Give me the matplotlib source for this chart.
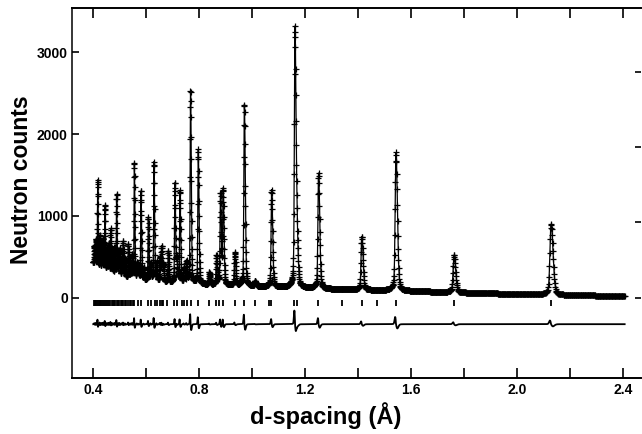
import numpy as np
import matplotlib
matplotlib.use('Agg')
from matplotlib import pyplot as plt

plt.rcParams['font.family'] = ['Liberation Sans', 'DejaVu Sans']
plt.rcParams['font.weight'] = 'bold'

# Bragg peaks: d-spacing (A) and top counts
peak_d = [0.404, 0.409, 0.4166, 0.425, 0.432, 0.438, 0.444, 0.452, 0.458, 0.4655,
          0.472, 0.480, 0.488, 0.495, 0.500, 0.508, 0.513, 0.520, 0.532, 0.540,
          0.547, 0.555, 0.565, 0.570, 0.580, 0.590, 0.6076, 0.617, 0.629, 0.639,
          0.652, 0.658, 0.664, 0.683, 0.708, 0.715, 0.727, 0.742, 0.752, 0.767,
          0.796, 0.838, 0.865, 0.880, 0.890, 0.934, 0.970, 1.010, 1.073, 1.161,
          1.169, 1.250, 1.413, 1.542, 1.761, 2.127]
peak_top = [620, 700, 1432, 750, 640, 700, 1114, 600, 650, 829,
            560, 600, 1257, 520, 584, 480, 670, 461, 645, 430,
            500, 1637, 400, 380, 1297, 350, 972, 400, 1653, 420,
            480, 605, 400, 563, 1392, 450, 1297, 350, 421, 2530,
            1808, 300, 502, 1257, 1310, 543, 2367, 200, 1318, 3300,
            600, 1523, 747, 1780, 522, 902]

# background level under the pattern
bg_d = [0.40, 0.42, 0.45, 0.50, 0.55, 0.60, 0.70, 0.80, 0.90, 1.0, 1.1, 1.2,
        1.3, 1.4, 1.5, 1.6, 1.7, 1.8, 1.9, 2.0, 2.1, 2.2, 2.3, 2.41]
bg_counts = [420, 370, 320, 260, 225, 205, 180, 162, 150, 140, 128, 118,
             105, 96, 88, 80, 70, 60, 52, 43, 35, 30, 25, 21]

# reflection markers
refl_d = [0.402, 0.405, 0.408, 0.411, 0.414, 0.417, 0.420, 0.424, 0.427, 0.431,
          0.434, 0.438, 0.441, 0.444, 0.448, 0.452, 0.456, 0.460, 0.465, 0.469,
          0.473, 0.478, 0.483, 0.488, 0.493, 0.498, 0.503, 0.508, 0.513, 0.519,
          0.525, 0.531, 0.537, 0.543, 0.549, 0.555, 0.570, 0.579, 0.608, 0.617,
          0.633, 0.639, 0.652, 0.658, 0.664, 0.677, 0.706, 0.715, 0.733, 0.742,
          0.752, 0.767, 0.796, 0.838, 0.863, 0.876, 0.888, 0.935, 0.970, 1.010,
          1.063, 1.071, 1.157, 1.169, 1.248, 1.337, 1.413, 1.469, 1.542, 1.761,
          2.127]

res = 0.0019        # gaussian sigma / d
misfit = 0.00018    # calc peak shift / d
tick_row = -65
diff_offset = -325


def profile(x, shift=0.0):
    y = np.interp(x, bg_d, bg_counts)
    for d0, top in zip(peak_d, peak_top):
        h = top - np.interp(d0, bg_d, bg_counts)
        c = d0 * (1 + shift)
        s = res * d0
        sl = np.where(x < c, s, 1.8 * s)
        y = y + h * (0.88 * np.exp(-0.5 * ((x - c) / sl) ** 2)
                     + 0.12 / (1 + ((x - c) / (3 * s)) ** 2))
    return y


d = np.geomspace(0.40, 2.405, 2600)
obs = profile(d)
calc = profile(d, misfit)

fig = plt.figure(figsize=(6.42, 4.34), dpi=100)
ax = fig.add_axes([0.1121, 0.1297, 0.8869, 0.853])

ax.plot(d, obs, '+', color='k', ms=4.2, mew=0.9)
ax.plot(d, calc, '-', color='k', lw=0.9)
ax.plot(refl_d, [tick_row] * len(refl_d), '|', color='k', ms=4.5, mew=1.3)
ax.plot(d, obs - calc + diff_offset, '-', color='k', lw=1.3)

ax.set_xlim(0.3197, 2.468)
ax.set_ylim(-980, 3550)

ax.set_xticks([0.4, 0.8, 1.2, 1.6, 2.0, 2.4])
ax.set_xticklabels(['0.4', '0.8', '1.2', '1.6', '2.0', '2.4'])
ax.set_xticks([0.6, 1.0, 1.4, 1.8, 2.2], minor=True)
ax.set_yticks([0, 1000, 2000, 3000])
ax.tick_params(axis='x', which='both', direction='in', top=True, length=7,
               width=1.2, labelsize=10, pad=4)
ax.tick_params(axis='y', direction='in', length=5, width=1.2, labelsize=10, pad=3)

ax.spines['right'].set_visible(False)
ax.spines['left'].set_linewidth(1.1)
ax.spines['bottom'].set_linewidth(1.4)
ax.spines['top'].set_linewidth(1.4)

sec = ax.secondary_yaxis('right')
sec.set_yticks([0, 920, 1840, 2760])
sec.set_yticklabels([])
sec.tick_params(direction='in', length=4, width=1.2)
sec.spines['right'].set_visible(False)

ax.set_xlabel('d-spacing (Å)', fontsize=17, fontweight='bold')
ax.set_ylabel('Neutron counts', fontsize=16.5, fontweight='bold')
ax.xaxis.set_label_coords(0.446, -0.066)
ax.yaxis.set_label_coords(-0.0685, 0.534)

fig.savefig('out.png', dpi=100)
